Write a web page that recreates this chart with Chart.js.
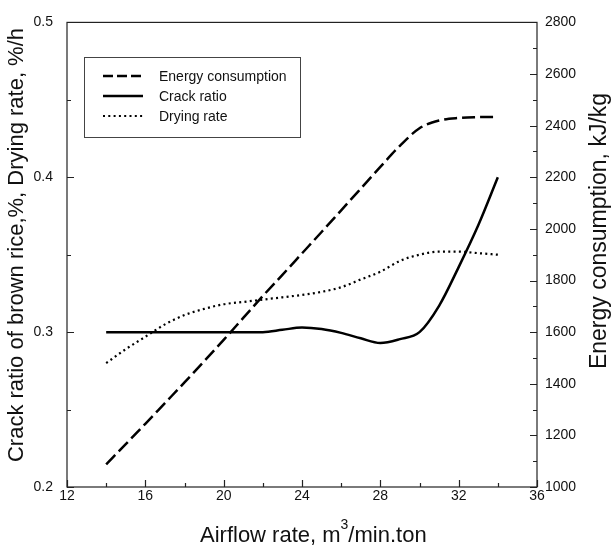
<!DOCTYPE html>
<html>
<head>
<meta charset="utf-8">
<script src="https://cdn.jsdelivr.net/npm/chart.js@4/dist/chart.umd.min.js"></script>
<style>
  html, body { margin: 0; padding: 0; background: #fff; }
  canvas { display: block; }
</style>
</head>
<body>
<canvas id="myChart" width="613" height="548"></canvas>
<script>
// Values
const airflowRate = [14, 15, 16, 17, 18, 19, 20, 21, 22, 23, 24, 25, 26, 27, 28, 29, 30, 31, 32, 33, 34];
const energyConsumption = [1088, 1166, 1245, 1325, 1405, 1487, 1570, 1655, 1740, 1822, 1905, 1988, 2072, 2156, 2240, 2322, 2390, 2420, 2430, 2433, 2434];
const crackRatio = [0.300, 0.300, 0.300, 0.300, 0.300, 0.300, 0.300, 0.300, 0.300, 0.3015, 0.303, 0.302, 0.2995, 0.296, 0.293, 0.2955, 0.300, 0.317, 0.342, 0.369, 0.400];
const dryingRate = [0.280, 0.289, 0.297, 0.305, 0.311, 0.315, 0.318, 0.3195, 0.321, 0.3225, 0.324, 0.326, 0.329, 0.334, 0.339, 0.346, 0.350, 0.352, 0.352, 0.351, 0.350];

// Tick values
const xMajor = [12, 16, 20, 24, 28, 32, 36];
const xMinor = [14, 18, 22, 26, 30, 34];
const leftMajor = [0.2, 0.3, 0.4, 0.5];
const leftMinor = [0.25, 0.35, 0.45];
const rightMajor = [1000, 1200, 1400, 1600, 1800, 2000, 2200, 2400, 2600, 2800];
const rightMinor = [1100, 1300, 1500, 1700, 1900, 2100, 2300, 2500, 2700];

const FONT = "'Liberation Sans', Arial, sans-serif";
const TEXT = '#111';

const toPoints = (ys) => airflowRate.map((x, i) => ({ x: x, y: ys[i] }));
const setTicks = (major, minor) => (scale) => {
    scale.ticks = major.concat(minor).sort((a, b) => a - b).map(v => ({ value: v, major: major.includes(v) }));
};

// Frame, inward ticks, axis titles and legend box
const decorations = {
    id: 'decorations',
    afterDraw(chart) {
        const { ctx, chartArea: a, scales } = chart;
        ctx.save();
        ctx.strokeStyle = '#222';
        ctx.lineWidth = 1.2;
        ctx.strokeRect(a.left, a.top, a.right - a.left, a.bottom - a.top);

        ctx.beginPath();
        scales.x.ticks.forEach(t => {
            const px = Math.round(scales.x.getPixelForValue(t.value)) + 0.5;
            const len = t.major ? 7 : 4;
            ctx.moveTo(px, a.bottom);
            ctx.lineTo(px, a.bottom - len);
        });
        scales.y.ticks.forEach(t => {
            const py = Math.round(scales.y.getPixelForValue(t.value)) + 0.5;
            const len = t.major ? 7 : 4;
            ctx.moveTo(a.left, py);
            ctx.lineTo(a.left + len, py);
        });
        scales.y1.ticks.forEach(t => {
            const py = Math.round(scales.y1.getPixelForValue(t.value)) + 0.5;
            const len = t.major ? 7 : 4;
            ctx.moveTo(a.right, py);
            ctx.lineTo(a.right - len, py);
        });
        ctx.stroke();

        // axis titles
        ctx.fillStyle = TEXT;
        ctx.textBaseline = 'alphabetic';
        ctx.font = '22px ' + FONT;
        ctx.textAlign = 'left';
        const p1 = 'Airflow rate, m', p2 = '3', p3 = '/min.ton';
        let x = 200;
        ctx.fillText(p1, x, 542);
        x += ctx.measureText(p1).width;
        ctx.font = '14px ' + FONT;
        ctx.fillText(p2, x, 529);
        x += ctx.measureText(p2).width;
        ctx.font = '22px ' + FONT;
        ctx.fillText(p3, x, 542);

        ctx.textAlign = 'center';
        ctx.save();
        ctx.translate(23, 245);
        ctx.rotate(-Math.PI / 2);
        ctx.fillText('Crack ratio of brown rice,%, Drying rate, %/h', 0, 0);
        ctx.restore();
        ctx.font = '23px ' + FONT;
        ctx.save();
        ctx.translate(606, 231);
        ctx.rotate(-Math.PI / 2);
        ctx.fillText('Energy consumption, kJ/kg', 0, 0);
        ctx.restore();

        // legend
        ctx.fillStyle = '#fff';
        ctx.fillRect(84, 57, 216, 80);
        ctx.strokeStyle = '#444';
        ctx.lineWidth = 1;
        ctx.strokeRect(84.5, 57.5, 216, 80);
        ctx.font = '14px ' + FONT;
        ctx.textAlign = 'left';
        ctx.textBaseline = 'middle';
        chart.data.datasets.forEach((ds, i) => {
            const y = 76 + i * 20;
            ctx.strokeStyle = ds.borderColor;
            ctx.lineWidth = ds.borderWidth;
            ctx.setLineDash(ds.legendDash || ds.borderDash || []);
            ctx.beginPath();
            ctx.moveTo(103, y);
            ctx.lineTo(143, y);
            ctx.stroke();
            ctx.setLineDash([]);
            ctx.fillStyle = TEXT;
            ctx.fillText(ds.label, 159, y + 1);
        });
        ctx.restore();
    }
};

const ctx = document.getElementById('myChart').getContext('2d');

new Chart(ctx, {
    type: 'line',
    data: {
        datasets: [
            {
                label: 'Energy consumption',
                data: toPoints(energyConsumption),
                yAxisID: 'y1',
                borderColor: '#000',
                borderWidth: 2.5,
                borderDash: [13, 5],
                legendDash: [10, 4],
            },
            {
                label: 'Crack ratio',
                data: toPoints(crackRatio),
                yAxisID: 'y',
                borderColor: '#000',
                borderWidth: 2.5,
            },
            {
                label: 'Drying rate',
                data: toPoints(dryingRate),
                yAxisID: 'y',
                borderColor: '#000',
                borderWidth: 2.2,
                borderDash: [2, 3.3],
            },
        ],
    },
    options: {
        responsive: false,
        animation: false,
        devicePixelRatio: 1,
        layout: { padding: { top: 15, left: 0, right: 0, bottom: 0 } },
        plugins: {
            legend: { display: false },
            tooltip: { enabled: false },
        },
        elements: {
            point: { radius: 0 },
            line: { tension: 0.4, cubicInterpolationMode: 'monotone', fill: false },
        },
        scales: {
            x: {
                type: 'linear',
                min: 12,
                max: 36,
                afterBuildTicks: setTicks(xMajor, xMinor),
                afterFit: (s) => { s.height = 61; },
                grid: { display: false, drawTicks: false },
                border: { display: false },
                ticks: {
                    autoSkip: false,
                    maxRotation: 0,
                    padding: 1,
                    color: TEXT,
                    font: { family: FONT, size: 14 },
                    callback: (v) => (xMajor.includes(v) ? String(v) : ''),
                },
            },
            y: {
                type: 'linear',
                position: 'left',
                min: 0.2,
                max: 0.5,
                afterBuildTicks: setTicks(leftMajor, leftMinor),
                afterFit: (s) => { s.width = 67; },
                grid: { display: false, drawTicks: false },
                border: { display: false },
                ticks: {
                    autoSkip: false,
                    padding: 14,
                    color: TEXT,
                    font: { family: FONT, size: 14 },
                    callback: (v) => (leftMajor.includes(v) ? v.toFixed(1) : ''),
                },
            },
            y1: {
                type: 'linear',
                position: 'right',
                min: 1000,
                max: 2800,
                afterBuildTicks: setTicks(rightMajor, rightMinor),
                afterFit: (s) => { s.width = 76; },
                grid: { display: false, drawTicks: false },
                border: { display: false },
                ticks: {
                    autoSkip: false,
                    padding: 8,
                    color: TEXT,
                    font: { family: FONT, size: 14 },
                    callback: (v) => (rightMajor.includes(v) ? String(v) : ''),
                },
            },
        },
    },
    plugins: [decorations],
});
</script>
</body>
</html>
